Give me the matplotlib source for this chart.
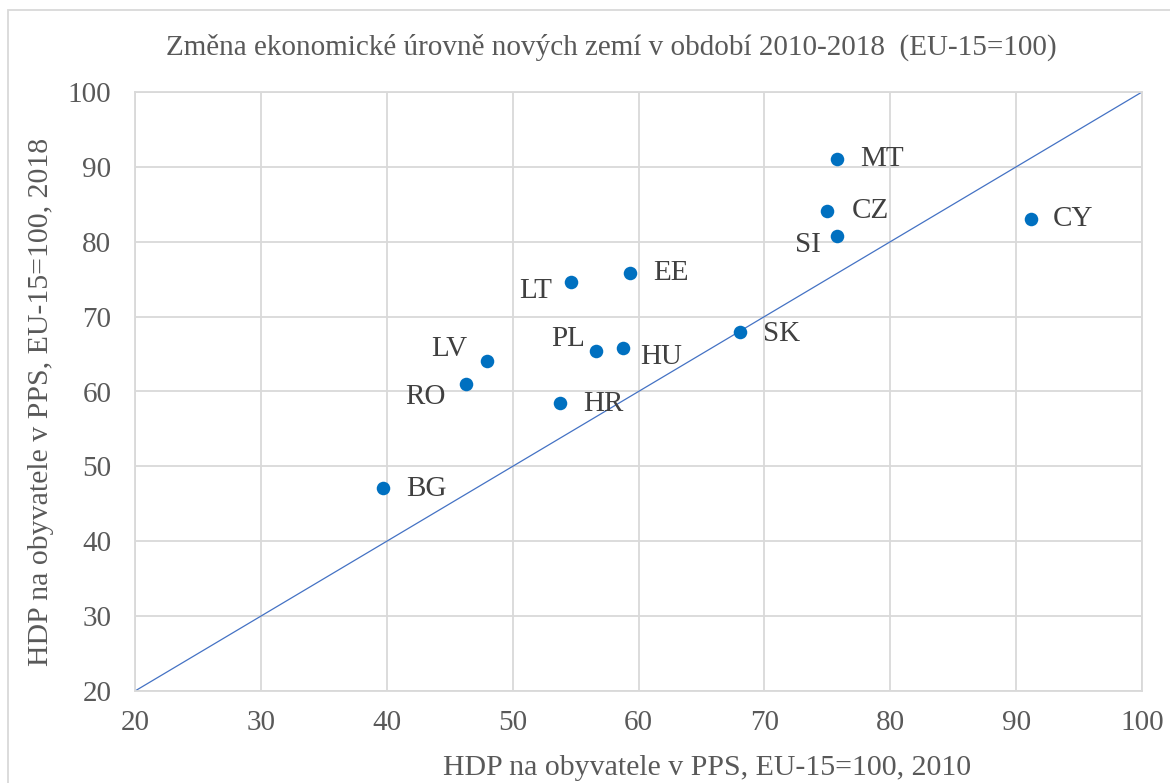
import matplotlib
matplotlib.use("Agg")
import matplotlib.pyplot as plt
from matplotlib.patches import Rectangle

countries = ["MT", "CZ", "SI", "CY", "EE", "LT", "SK", "PL", "HU", "LV", "RO", "HR", "BG"]
gdp_2010 = [75.8, 75.0, 75.8, 91.2, 59.3, 54.6, 68.1, 56.6, 58.8, 48.0, 46.3, 53.8, 39.7]
gdp_2018 = [91.0, 84.1, 80.8, 83.0, 75.8, 74.6, 68.0, 65.4, 65.8, 64.1, 61.0, 58.5, 47.1]
# label offsets in pixels (dx, dy) relative to marker, with horizontal alignment
label_offsets = {
    "MT": (23, 0, "left"), "CZ": (24, 0, "left"), "SI": (-17, -9, "right"),
    "CY": (22, 0, "left"), "EE": (23, 0, "left"), "LT": (-18, -9, "right"),
    "SK": (23, -2, "left"), "PL": (-11, 12, "right"), "HU": (17, -9, "left"),
    "LV": (-20, 12, "right"), "RO": (-20, -13, "right"), "HR": (23, -1, "left"),
    "BG": (23, -1, "left"),
}
diag = [20, 100]
ticks = [20, 30, 40, 50, 60, 70, 80, 90, 100]

plt.rcParams["font.family"] = ["Liberation Serif", "DejaVu Serif"]

W, H = 1170, 783
fig = plt.figure(figsize=(W / 100, H / 100), dpi=100)
ax = fig.add_axes([135 / W, 1 - 691 / H, (1142 - 135) / W, (691 - 92) / H])

ax.plot(diag, diag, color="#4472C4", lw=0.9, zorder=2)
ax.scatter(gdp_2010, gdp_2018, s=95, color="#0070C0", zorder=3, linewidths=0)

for c, x, y in zip(countries, gdp_2010, gdp_2018):
    dx, dy, ha = label_offsets[c]
    ax.annotate(c, (x, y), xytext=(dx * 0.72, dy * 0.72), textcoords="offset points",
                ha=ha, va="center", fontsize=21, color="#404040")

ax.set_xlim(20, 100)
ax.set_ylim(20, 100)
ax.set_xticks(ticks)
ax.set_yticks(ticks)
ax.grid(True, color="#D9D9D9", lw=1.3)
ax.set_axisbelow(True)
for s in ax.spines.values():
    s.set_color("#D9D9D9")
    s.set_linewidth(1.3)
ax.tick_params(length=0, labelsize=21, colors="#595959")
ax.tick_params(axis="x", pad=14)
ax.tick_params(axis="y", pad=17)

fig.text(707 / W, 1 - 768 / H, "HDP na obyvatele v PPS, EU-15=100, 2010",
         ha="center", va="center", fontsize=21.5, color="#595959")
fig.text(41 / W, 1 - 402 / H, "HDP na obyvatele v PPS, EU-15=100, 2018",
         ha="center", va="center", rotation=90, fontsize=21.5, color="#595959")
fig.text(611 / W, 1 - 47 / H,
         "Změna ekonomické úrovně nových zemí v období 2010-2018  (EU-15=100)",
         ha="center", va="center", fontsize=21, color="#595959")

fig.patches.append(Rectangle((8 / W, -0.05), 1.1, 1 - 10 / H + 0.05, transform=fig.transFigure,
                             fill=False, edgecolor="#D9D9D9", lw=1.3))

fig.savefig("out.png", dpi=100)
